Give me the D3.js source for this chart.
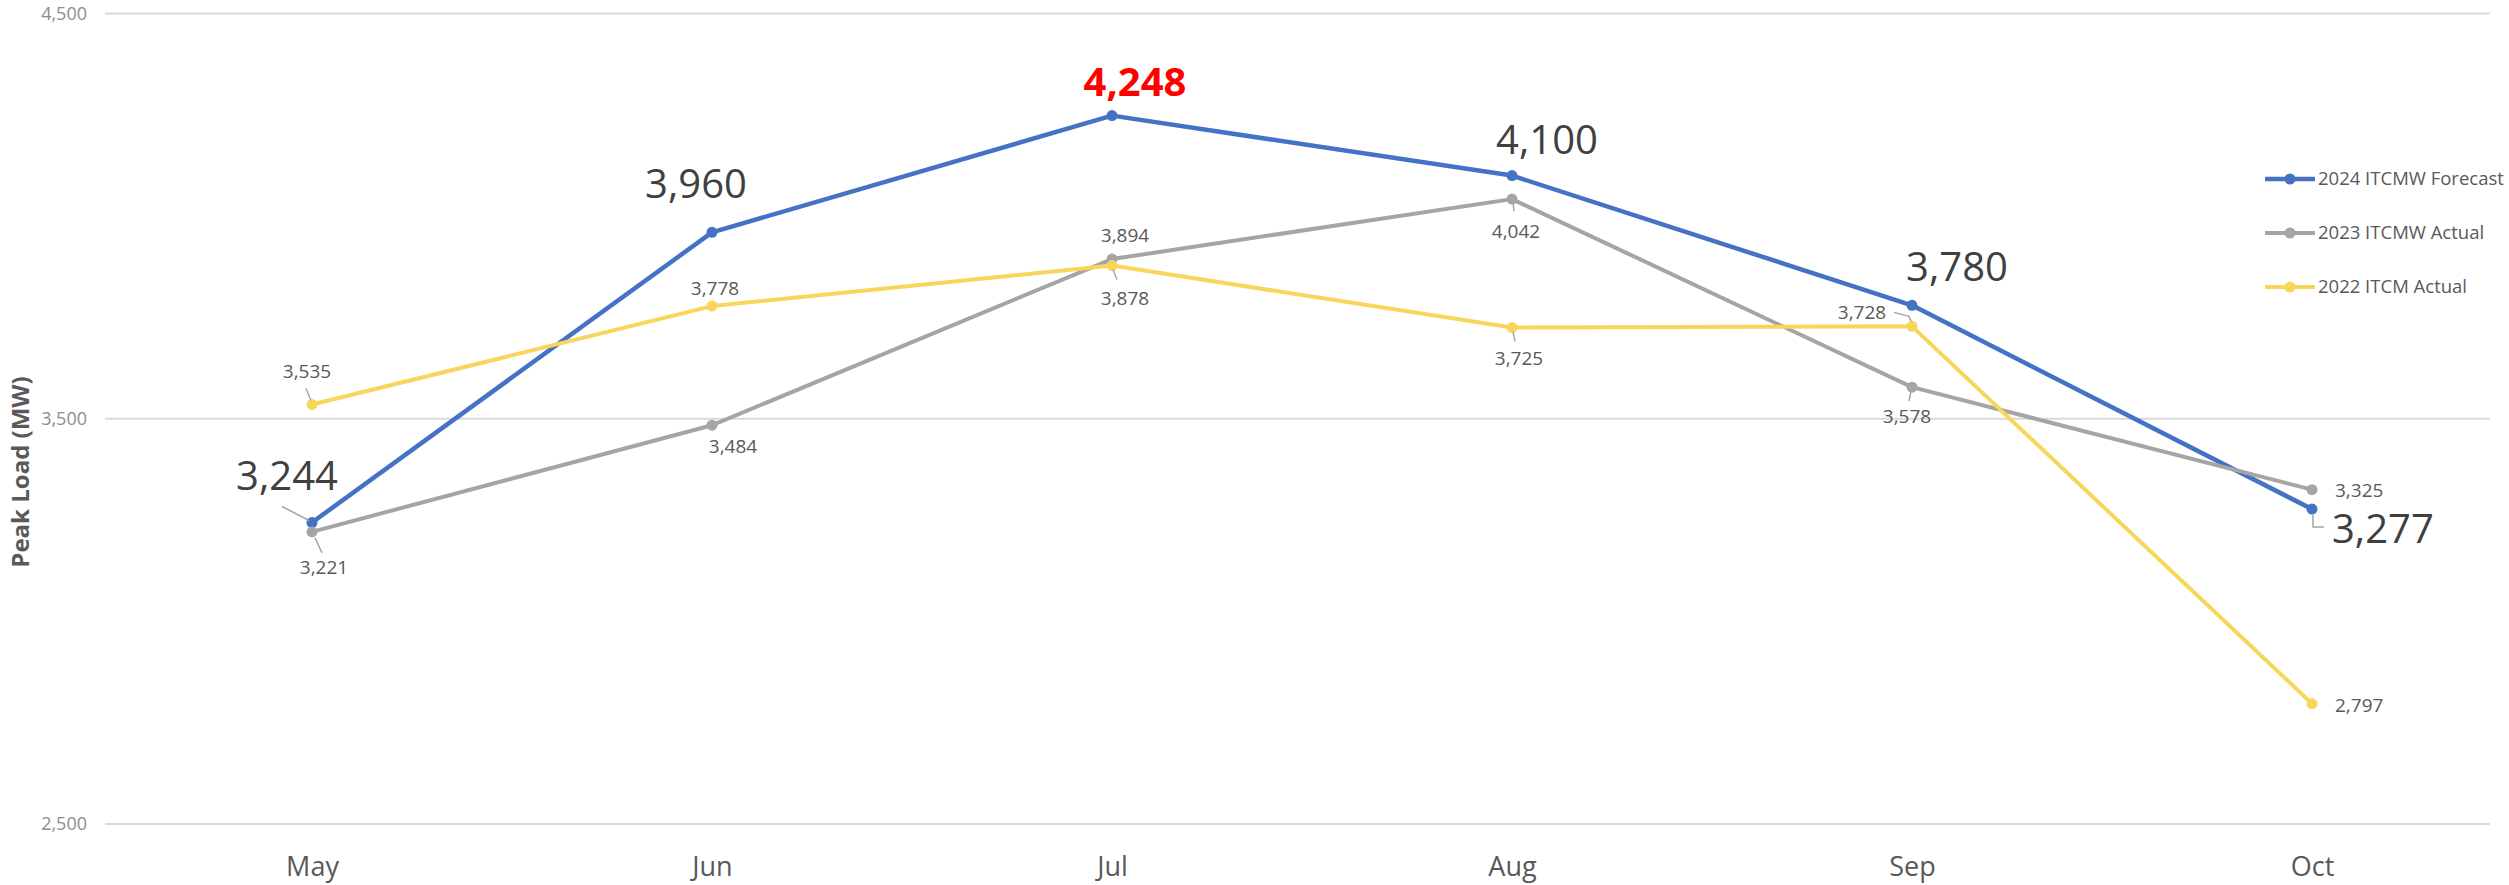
<!DOCTYPE html>
<html><head><meta charset="utf-8">
<script src="https://cdn.jsdelivr.net/npm/d3@7"></script>
<style>
html,body{margin:0;padding:0;background:#fff;}
svg{display:block;font-family:"Open Sans","Noto Sans",sans-serif;}
</style></head>
<body><svg id="chart" width="2509" height="885"></svg>
<script>
// ---- data ----
const months = ["May","Jun","Jul","Aug","Sep","Oct"];
const forecast2024 = [3244,3960,4248,4100,3780,3277];
const actual2023 = [3221,3484,3894,4042,3578,3325];
const actual2022 = [3535,3778,3878,3725,3728,2797];
const seriesNames = ["2024 ITCMW Forecast","2023 ITCMW Actual","2022 ITCM Actual"];
const yTicks = [2500,3500,4500];

// ---- layout (label offsets relative to the point) ----
const labelLayout = {
  "2024 ITCMW Forecast": [
    {dx:-25,dy:-32,anchor:"middle",lead:[[-30,-16],[-3,-2]]},
    {dx:-16,dy:-34,anchor:"middle"},
    {dx:23,dy:-20,anchor:"middle",red:true},
    {dx:35,dy:-22,anchor:"middle"},
    {dx:45,dy:-24,anchor:"middle"},
    {dx:20,dy:34,anchor:"start",lead:[[1,6],[1,18],[12,18]]}
  ],
  "2023 ITCMW Actual": [
    {dx:12,dy:42,anchor:"middle",lead:[[3,6],[10,21]]},
    {dx:21,dy:28,anchor:"middle"},
    {dx:13,dy:-17,anchor:"middle"},
    {dx:4,dy:39,anchor:"middle",lead:[[1,4],[2,12]]},
    {dx:-5,dy:36,anchor:"middle",lead:[[-1,4],[-3,14]]},
    {dx:23,dy:7,anchor:"start"}
  ],
  "2022 ITCM Actual": [
    {dx:-5,dy:-27,anchor:"middle",lead:[[-6,-16],[-1,-4]]},
    {dx:3,dy:-11,anchor:"middle"},
    {dx:13,dy:39,anchor:"middle",lead:[[1,4],[5,14]]},
    {dx:7,dy:37,anchor:"middle",lead:[[1,4],[3,14]]},
    {dx:-50,dy:-7,anchor:"middle",lead:[[-18,-14],[-3,-10],[-1,-5]]},
    {dx:23,dy:8,anchor:"start"}
  ]
};

const series = [
  {name:seriesNames[0], values:forecast2024, color:"#4472C4", width:4.5, big:true},
  {name:seriesNames[1], values:actual2023, color:"#A5A5A5", width:4, big:false},
  {name:seriesNames[2], values:actual2022, color:"#F8D55B", width:4, big:false}
];

const svg = d3.select("#chart");
const x = d3.scalePoint().domain(months).range([312,2312]);
const y = d3.scaleLinear().domain([2500,4500]).range([824,13.5]);
const fmt = d3.format(",");

// gridlines
svg.append("g").selectAll("line").data(yTicks).join("line")
  .attr("x1",105).attr("x2",2490)
  .attr("y1",d=>y(d)).attr("y2",d=>y(d))
  .attr("stroke","#D9D9D9").attr("stroke-width",2);

// y tick labels
svg.append("g").selectAll("text").data(yTicks).join("text")
  .attr("x",87).attr("y",d=>y(d)+6)
  .attr("text-anchor","end")
  .attr("font-size",18).attr("fill","#8C8C8C")
  .text(d=>fmt(d));

// x axis labels
const xAxis = d3.axisBottom(x).tickSize(0).tickPadding(0);
const gx = svg.append("g").attr("transform","translate(0,876)").call(xAxis);
gx.select(".domain").remove();
gx.selectAll("text").attr("font-size",27).attr("fill","#595959")
  .attr("font-family","\"Open Sans\",\"Noto Sans\",sans-serif").attr("dy","0");

// y axis title
svg.append("text")
  .attr("transform","translate(29,472) rotate(-90)")
  .attr("text-anchor","middle")
  .attr("font-size",24).attr("font-weight","bold").attr("fill","#595959")
  .text("Peak Load (MW)");

const line = d3.line().x((d,i)=>x(months[i])).y(d=>y(d));

series.forEach(s=>{
  const g = svg.append("g");
  g.append("path").datum(s.values).attr("d",line)
    .attr("fill","none").attr("stroke",s.color).attr("stroke-width",s.width)
    .attr("stroke-linejoin","round");
  g.selectAll("circle").data(s.values).join("circle")
    .attr("cx",(d,i)=>x(months[i])).attr("cy",d=>y(d))
    .attr("r",5.5).attr("fill",s.color);
});

// labels
series.forEach(s=>{
  const lay = labelLayout[s.name];
  s.values.forEach((v,i)=>{
    const px = x(months[i]), py = y(v), L = lay[i];
    if (L.lead) {
      svg.append("path")
        .attr("d", d3.line()(L.lead.map(p=>[px+p[0],py+p[1]])))
        .attr("fill","none").attr("stroke","#A6A6A6").attr("stroke-width",1.5);
    }
    const t = svg.append("text")
      .attr("x",px+L.dx).attr("y",py+L.dy)
      .attr("text-anchor",L.anchor)
      .text(fmt(v));
    if (L.red) {
      t.attr("font-size",40).attr("font-weight","bold").attr("fill","#FF0000");
    } else if (s.big) {
      t.attr("font-size",40).attr("fill","#404040");
    } else {
      t.attr("font-size",19).attr("fill","#595959");
    }
  });
});

// legend
const lg = svg.append("g");
series.forEach((s,i)=>{
  const ly = 179 + i*54;
  lg.append("line").attr("x1",2265).attr("x2",2315).attr("y1",ly).attr("y2",ly)
    .attr("stroke",s.color).attr("stroke-width",s.width);
  lg.append("circle").attr("cx",2290).attr("cy",ly).attr("r",5.5).attr("fill",s.color);
  lg.append("text").attr("x",2318).attr("y",ly+6)
    .attr("font-size",18.5).attr("fill","#595959").text(s.name);
});
</script>
</body></html>
